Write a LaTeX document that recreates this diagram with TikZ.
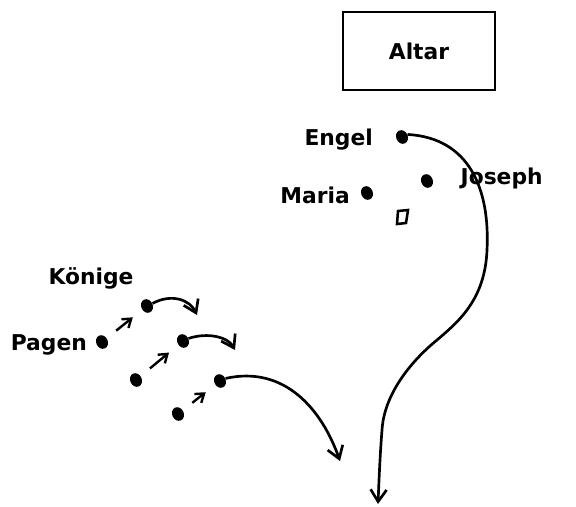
\documentclass[tikz,border=0pt]{standalone}
\usepackage{fontspec}
\setmainfont{DejaVu Sans}
\usetikzlibrary{arrows.meta,positioning,calc,shapes.geometric}

\begin{document}
\begin{tikzpicture}[
  x=0.025cm, y=-0.025cm,
  font=\fontsize{15.5}{18}\selectfont\bfseries,
  dot/.style={ellipse, fill, inner sep=0pt, minimum width=2.9mm, minimum height=3.5mm, rotate=25},
  lab/.style={inner sep=1pt},
  altarbox/.style={draw, line width=2pt, minimum width=3.8cm, minimum height=1.95cm},
  arr/.style={-{Straight Barb[length=3mm, width=4mm]}, line width=1.9pt},
  arrs/.style={-{Straight Barb[length=2mm, width=2.8mm]}, line width=1.7pt, shorten <=3mm, shorten >=3mm}
]
\useasboundingbox (0,0) rectangle (576,506);

% ---------- Altar ----------
\node[altarbox] (altar) at (419,51) {Altar};

% ---------- Holy family ----------
\node[dot] (engel)  at (402,137) {};
\node[dot] (joseph) at (427,181) {};
\node[dot] (maria)  at (367,193) {};
\draw[line width=1.8pt] (398,211) -- (408,210) -- (406,223) -- (397,224) -- cycle;
\node[lab, left=5.5mm of engel]   {Engel};
\node[lab, left=2.5mm of maria]   {Maria};
\node[lab, anchor=west] at (459,178) {Joseph};

% ---------- Kings and pages ----------
\node[dot] (koenig1) at (147,306) {};
\node[dot] (koenig2) at (183,341) {};
\node[dot] (koenig3) at (220,381) {};
\node[dot] (page1)   at (102,342) {};
\node[dot] (page2)   at (136,380) {};
\node[dot] (page3)   at (178,414) {};
\node[lab] at (91,278) {Könige};
\node[lab, left=2mm of page1] {Pagen};

% ---------- Pages follow kings ----------
\draw[arrs] (page1) -- (koenig1);
\draw[arrs] (page2) -- (koenig2);
\draw[arrs] (page3) -- (koenig3);

% ---------- Kings move on ----------
\coordinate (k1end) at (197,315);
\coordinate (k2end) at (235,350);
\coordinate (k3end) at (340,461);
\draw[arr] (koenig1.east) .. controls (172,293) and (190,300) .. (k1end);
\draw[arr] (koenig2.east) .. controls (208,332) and (228,337) .. (k2end);
\draw[arr] (koenig3.east) .. controls (285,365) and (322,410) .. (k3end);

% ---------- Angel's way ----------
\coordinate (engelend) at (378,504);
\draw[arr] (engel.east) .. controls (470,138) and (490,190) .. (487,250)
  .. controls (485,300) and (458,322) .. (437,340)
  .. controls (410,362) and (384,395) .. (382,430)
  .. controls (380,455) and (379,480) .. (engelend);
\end{tikzpicture}
\end{document}
